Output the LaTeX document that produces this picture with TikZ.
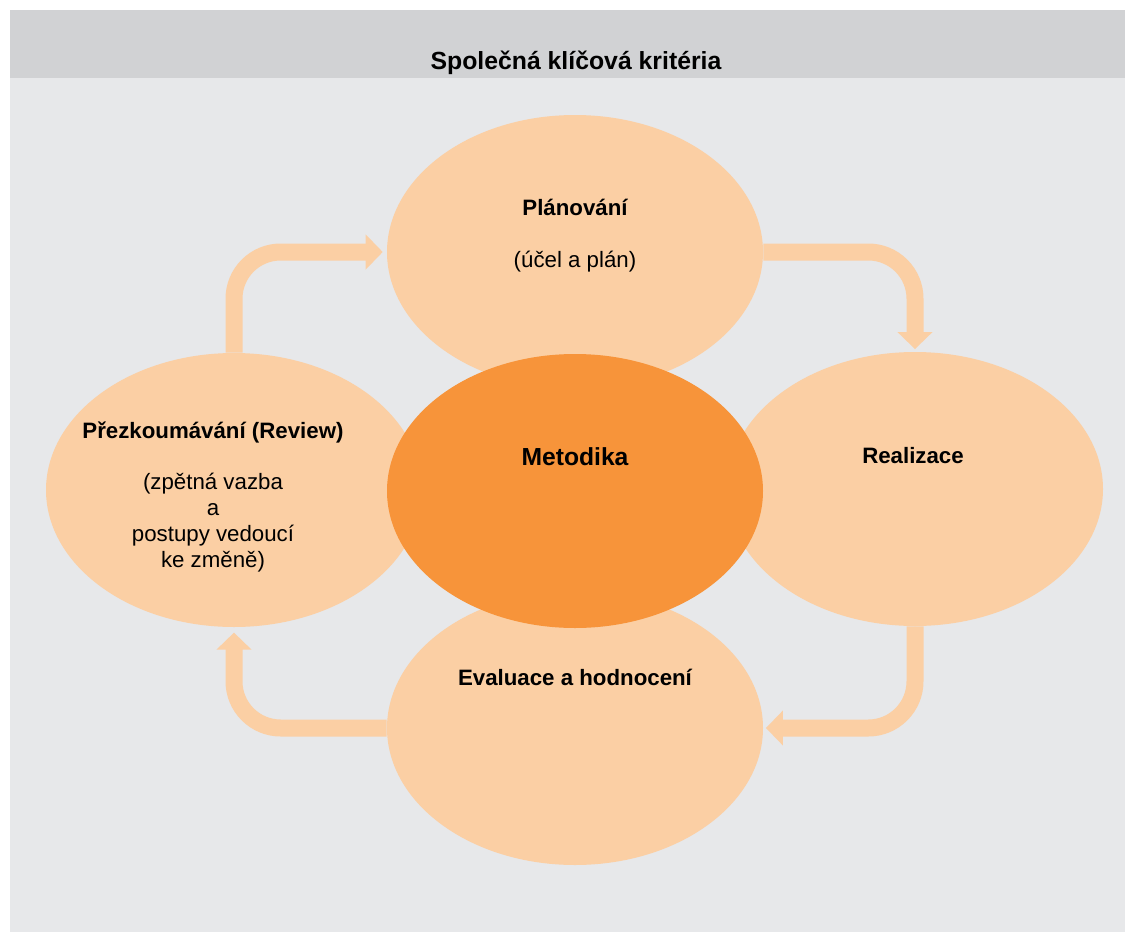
\documentclass[tikz,border=0pt]{standalone}
\usepackage{fontspec}
\setmainfont{Liberation Sans}
\usetikzlibrary{shapes.geometric, arrows.meta}
\definecolor{panelgray}{HTML}{E7E8EA}
\definecolor{headgray}{HTML}{D1D2D4}
\definecolor{peach}{HTML}{FBCFA4}
\definecolor{deeporange}{HTML}{F7943A}

\begin{document}
\begin{tikzpicture}[
  x=0.75pt, y=-0.75pt,
  phase/.style={ellipse, fill=peach, minimum width=282pt, minimum height=205.5pt, inner sep=0pt},
  core/.style={phase, fill=deeporange},
  flow/.style={draw=peach, line width=12.75pt, rounded corners=35pt, -{Triangle[width=25.5pt, length=12.75pt]}},
  head/.style={font=\bfseries\fontsize{16.7}{19.5}\selectfont, anchor=base, inner sep=0pt},
  note/.style={font=\fontsize{16.7}{19.5}\selectfont, anchor=base, align=center, inner sep=0pt}
]
% panel
\useasboundingbox (0,0) rectangle (1125,932);
\fill[white] (0,0) rectangle (1125,932);
\fill[panelgray] (10,10) rectangle (1125,932);
\fill[headgray] (10,10) rectangle (1125,78);
\node[font=\bfseries\fontsize{18.6}{22}\selectfont, anchor=base, inner sep=0pt] (title) at (576,69) {Společná klíčová kritéria};

% phases
\node[phase] (review) at (234,490) {};
\node[phase] (real) at (915,489) {};
\node[phase] (plan) at (575,252) {};
\node[phase] (eval) at (575,728) {};

% cycle
\draw[flow, shorten >=3pt] (review.north) |- (plan.west);
\draw[flow, shorten >=2pt] (plan.east) -| (real.north);
\draw[flow, shorten >=2pt] (real.south) |- (eval.east);
\draw[flow, shorten >=4pt] (eval.west) -| (review.south);

\node[core] (method) at (575,491) {};

% labels
\node[head] (plantxt) at (575,215) {Plánování};
\node[note] (plannote) at (575,267) {(účel a plán)};
\node[head, font=\bfseries\fontsize{18.5}{22}\selectfont] (methodtxt) at (575,465) {Metodika};
\node[head] (realtxt) at (913,463) {Realizace};
\node[head] (evaltxt) at (575,685) {Evaluace a hodnocení};
\node[head] (reviewtxt) at (213,438) {Přezkoumávání (Review)};
\node[note] (reviewnote) at (213,567) {(zpětná vazba\\a\\postupy vedoucí\\ke změně)};
\end{tikzpicture}
\end{document}
